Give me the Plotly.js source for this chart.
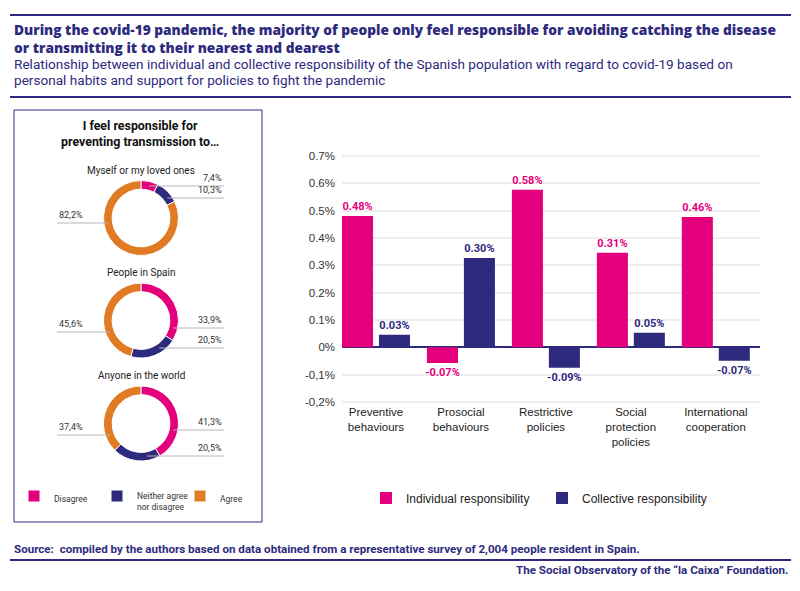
<!DOCTYPE html>
<html><head><meta charset="utf-8">
<script src="https://cdn.plot.ly/plotly-3.0.1.min.js"></script>
<style>html,body{margin:0;padding:0;background:#fff}#chart{width:800px;height:591px}</style>
</head><body><div id="chart"></div>
<script>
// ---------- DATA ----------
const categories = ['Preventive<br>behaviours','Prosocial<br>behaviours','Restrictive<br>policies','Social<br>protection<br>policies','International<br>cooperation'];
const individual = [0.48, -0.057, 0.576, 0.346, 0.477];
const collective = [0.046, 0.327, -0.075, 0.053, -0.049];
const individualLabels = ['0.48%','-0.07%','0.58%','0.31%','0.46%'];
const collectiveLabels = ['0.03%','0.30%','-0.09%','0.05%','-0.07%'];
const seriesNames = ['Individual responsibility','Collective responsibility'];
const yTickVals = [0.7,0.6,0.5,0.4,0.3,0.2,0.1,0,-0.1,-0.2];
const yTickText = ['0.7%','0.6%','0.5%','0.4%','0.3%','0.2%','0.1%','0%','-0,1%','-0,2%'];

const donutGroups = ['Myself or my loved ones','People in Spain','Anyone in the world'];
const donutCategories = ['Disagree','Neither agree<br>nor disagree','Agree'];
const disagree = [7.4, 33.9, 41.3];
const neither = [10.3, 20.5, 20.5];
const agree = [82.2, 45.6, 37.4];

// ---------- STYLE / LAYOUT ----------
const W = 800, H = 591;
const px = x => x / W;
const py = y => 1 - y / H;
const NAVY = '#2e2a7e', PINK = '#e4007c', ORANGE = '#e07b24';
const BASE = 'Liberation Sans, Arial, sans-serif';
const NARROW = 'Liberation Sans Narrow, Arial Narrow, Roboto, sans-serif';
const TITLEF = 'Roboto, Liberation Sans, sans-serif';
const HEAVY = 'Open Sans, Roboto, sans-serif';

const traces = [];
const shapes = [];
const annotations = [];
const ann = o => annotations.push(Object.assign({xref: 'paper', yref: 'paper', showarrow: false}, o));

// Donuts
const donutCx = 141, donutCy = [218, 320.5, 423.5], R = 37.5, ringMid = 33;
const labelDy = [[-32,-20,5],[7.5,27.5,11.5],[6.5,32.5,11.5]];
const labelSide = [1, 1, -1];
const rightEnd = 224, leftEnd = 57;
const fmt = v => v.toFixed(1).replace('.', ',') + '%';

donutGroups.forEach((g, i) => {
  const cy = donutCy[i];
  const vals = [disagree[i], neither[i], agree[i]];
  traces.push({
    type: 'pie', labels: donutCategories, values: vals, hole: 0.77, sort: false,
    direction: 'clockwise', rotation: 0, textinfo: 'none', hoverinfo: 'none',
    marker: {colors: [PINK, NAVY, ORANGE], line: {color: '#ffffff', width: 1}},
    domain: {x: [px(donutCx - R), px(donutCx + R)], y: [py(cy + R), py(cy - R)]},
    showlegend: i === 0, legend: 'legend2'
  });
  ann({text: g, x: px(donutCx), y: py(cy - 48), xanchor: 'center', yanchor: 'middle',
    font: {size: 10, color: '#222', family: NARROW}});
  vals.forEach((v, k) => {
    const dy = labelDy[i][k], s = labelSide[k];
    const dx = Math.sqrt(Math.max(ringMid * ringMid - dy * dy, 0));
    const x0 = donutCx + s * dx, yL = cy + dy;
    const x1 = s > 0 ? rightEnd : leftEnd;
    shapes.push({type: 'line', xref: 'paper', yref: 'paper', x0: px(x0), x1: px(x1), y0: py(yL), y1: py(yL),
      line: {color: '#b8b8b8', width: 1}});
    ann({text: fmt(v), x: px(x1), y: py(yL - 1), xanchor: s > 0 ? 'right' : 'left', yanchor: 'bottom',
      font: {size: 9, color: '#333', family: NARROW}});
  });
});

// Bars
traces.push({
  type: 'bar', x: categories, y: individual, name: seriesNames[0], marker: {color: PINK},
  text: individualLabels, textposition: 'outside', constraintext: 'none', cliponaxis: false,
  textfont: {color: PINK, size: 11, family: NARROW, weight: 'bold'}, hoverinfo: 'none', legend: 'legend'
});
traces.push({
  type: 'bar', x: categories, y: collective, name: seriesNames[1], marker: {color: NAVY},
  text: collectiveLabels, textposition: 'outside', constraintext: 'none', cliponaxis: false,
  textfont: {color: NAVY, size: 11, family: NARROW, weight: 'bold'}, hoverinfo: 'none', legend: 'legend'
});

// Frame lines and box
shapes.push({type: 'line', xref: 'paper', yref: 'paper', x0: px(10), x1: px(791), y0: py(15), y1: py(15), line: {color: NAVY, width: 2}});
shapes.push({type: 'line', xref: 'paper', yref: 'paper', x0: px(10), x1: px(791), y0: py(97), y1: py(97), line: {color: NAVY, width: 2}});
shapes.push({type: 'line', xref: 'paper', yref: 'paper', x0: px(10), x1: px(791), y0: py(560), y1: py(560), line: {color: NAVY, width: 2}});
shapes.push({type: 'rect', xref: 'paper', yref: 'paper', x0: px(14), x1: px(262), y0: py(522), y1: py(110), line: {color: NAVY, width: 1}});

// Texts
ann({text: 'During the covid-19 pandemic, the majority of people only feel responsible for avoiding catching the disease<br>or transmitting it to their nearest and dearest',
  x: px(12), y: py(38.5), xanchor: 'left', yanchor: 'middle', align: 'left',
  font: {size: 13.7, color: NAVY, family: HEAVY, weight: 800}});
ann({text: 'Relationship between individual and collective responsibility of the Spanish population with regard to covid-19 based on',
  x: px(12), y: py(64), xanchor: 'left', yanchor: 'middle', font: {size: 13.6, color: NAVY, family: TITLEF}});
ann({text: 'personal habits and support for policies to fight the pandemic',
  x: px(12), y: py(80), xanchor: 'left', yanchor: 'middle', font: {size: 13.6, color: NAVY, family: TITLEF}});
ann({text: '<b>I feel responsible for<br>preventing transmission to…</b>',
  x: px(140), y: py(134), xanchor: 'center', yanchor: 'middle', font: {size: 12.4, color: '#111', family: NARROW}});
ann({text: '<b>Source:  compiled by the authors based on data obtained from a representative survey of 2,004 people resident in Spain.</b>',
  x: px(12), y: py(549), xanchor: 'left', yanchor: 'middle', font: {size: 11.6, color: NAVY, family: NARROW}});
ann({text: '<b>The Social Observatory of the “la Caixa” Foundation.</b>',
  x: px(790), y: py(570), xanchor: 'right', yanchor: 'middle', font: {size: 11.6, color: NAVY, family: NARROW}});

const layout = {
  width: W, height: H, margin: {l: 0, r: 0, t: 0, b: 0},
  paper_bgcolor: '#fff', plot_bgcolor: 'rgba(0,0,0,0)',
  font: {family: BASE, color: '#222'},
  barmode: 'group', bargap: 0.13, bargroupgap: 0.16,
  xaxis: {domain: [px(342), px(760)], type: 'category', range: [-0.4, 4.52], showgrid: false, zeroline: false,
    showline: false, ticks: '', tickfont: {size: 11.5, color: '#222'}, fixedrange: true},
  yaxis: {domain: [py(403.4), py(154.6)], range: [-0.205, 0.705], tickvals: yTickVals, ticktext: yTickText,
    showgrid: true, gridcolor: '#eeeeee', gridwidth: 2, zeroline: true, zerolinecolor: NAVY, zerolinewidth: 2,
    showline: false, ticks: '', tickfont: {size: 11.5, color: '#333'}, ticklabelstandoff: 6, fixedrange: true},
  legend: {orientation: 'h', x: px(366), y: py(498), xanchor: 'left', yanchor: 'middle', traceorder: 'normal',
    font: {size: 12, color: '#222', family: BASE}, entrywidth: 131, entrywidthmode: 'pixels', bgcolor: 'rgba(0,0,0,0)'},
  legend2: {orientation: 'h', x: px(14), y: py(484), xanchor: 'left', yanchor: 'top', traceorder: 'normal', valign: 'top',
    font: {size: 8.5, color: '#333', family: NARROW}, entrywidth: 38, entrywidthmode: 'pixels', bgcolor: 'rgba(0,0,0,0)'},
  shapes: shapes, annotations: annotations
};

Plotly.newPlot('chart', traces, layout, {displayModeBar: false, staticPlot: true});
</script></body></html>
